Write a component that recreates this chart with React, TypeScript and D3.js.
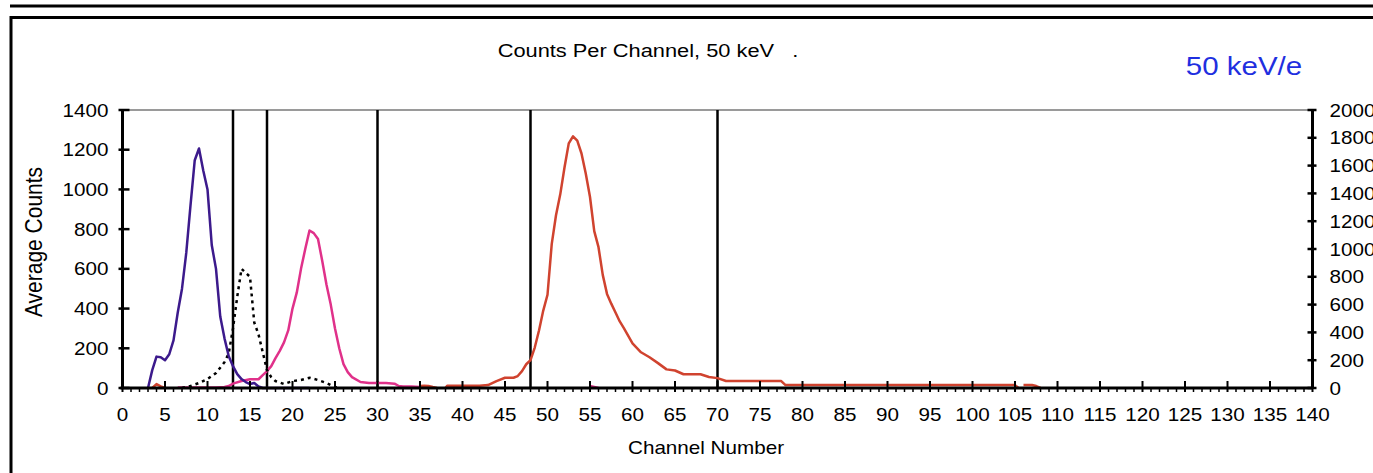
import React from 'react';
import * as d3 from 'd3';

// ---------- data ----------
const xTickLabels = ['0','5','10','15','20','25','30','35','40','45','50','55','60','65','70','75','80','85','90','95','100','105','110','115','120','125','130','135','140'];
const leftTickLabels = ['0','200','400','600','800','1000','1200','1400'];
const rightTickLabels = ['0','200','400','600','800','1000','1200','1400','1600','1800','2000'];
const markerChannels = [13, 17, 30, 48, 70];

type Pt = [number, number | null];

// left axis (Average Counts)
const purpleSeries: Pt[] = [
  [3,0],[3.5,90],[4,158],[4.5,155],[5,140],[5.5,170],[6,240],[6.5,380],[7,500],[7.5,680],
  [8,920],[8.5,1147],[9,1206],[9.5,1095],[10,1000],[10.5,720],[11,600],[11.5,360],[12,250],
  [12.5,160],[13,110],[13.5,70],[14,45],[14.5,30],[15,20],[15.5,25],[16,8],[16.5,0],
  [17,0],[18,0],[19,0],[20,0],[21,0],[22,0]
];

const dottedSeries: Pt[] = [
  [7,0],[8,10],[9,25],[10,45],[11,75],[12,130],[12.5,175],[13,300],[13.5,460],[14,600],
  [14.5,580],[15,560],[15.5,330],[16,270],[16.5,180],[17,90],[17.5,55],[18,35],[19,20],
  [20,35],[21,40],[22,52],[23,40],[24,25],[25,5],[25.5,0]
];

const pinkSeries: Pt[] = [
  [6.5,2],[7,2],[8,2],[9,3],[10,3],[11,3],[12,5],[12.5,10],[13,22],[14,35],[15,44],[16,44],
  [16.5,65],[17,85],[17.5,110],[18,150],[18.5,187],[19,230],[19.5,290],[20,400],[20.5,480],
  [21,600],[21.5,700],[22,793],[22.5,780],[23,750],[23.5,640],[24,520],[24.5,420],[25,300],
  [25.5,200],[26,120],[26.5,80],[27,55],[28,30],[29,25],[30,25],[31,25],[32,22],[32.5,10],
  [33,8],[34,8],[35,5],[35.5,null],[55,10],[56,0]
];

// right axis (0-2000)
const redSeries: Pt[] = [
  [3.5,0],[4,28],[4.5,12],[5,0],[5.5,null],
  [35,15],[35.5,17],[36,15],[36.5,7],[37,0],[37.5,null],
  [38,0],[38.2,17],[39,17],[40,17],[41,17],[42,17],[43,21],[44,50],[45,74],[46,74],[46.5,86],
  [47,121],[47.5,171],[48,200],[48.5,291],[49,414],[49.5,557],[50,671],[50.5,1037],[51,1243],
  [51.5,1393],[52,1586],[52.5,1760],[53,1811],[53.5,1779],[54,1687],[54.5,1543],[55,1374],
  [55.5,1129],[56,1013],[56.5,814],[57,677],[57.5,607],[58,543],[58.5,479],[59,429],[60,321],
  [61,257],[62,221],[63,179],[64,134],[65,126],[66,99],[67,99],[68,99],[69,79],[70,71],[71,50],
  [72,50],[73,50],[74,50],[75,50],[76,50],[77,50],[77.5,50],[78,21],[79,21],[80,21],[85,21],
  [90,21],[95,21],[100,21],[104,21],[105,21],[105.4,0],[105.7,null],[106,21],[107,21],[107.5,14],[108,0]
];

// ---------- layout ----------
const W = 1373, H = 473;
const SX = 1.18; // horizontal text stretch seen in the reference
const FONT = 'Liberation Sans, Arial, Helvetica, sans-serif';

const x = d3.scaleLinear().domain([0, 140]).range([122.5, 1312.5]);
const yL = d3.scaleLinear().domain([0, 1400]).range([388, 110]);
const yR = d3.scaleLinear().domain([0, 2000]).range([388, 110]);

function T({ x, y, size, anchor = 'middle', fill = '#000', rotate = 0, children }: any) {
  return (
    <text
      transform={`translate(${x},${y}) scale(${SX},1) rotate(${rotate})`}
      textAnchor={anchor}
      fontFamily={FONT}
      fontSize={size}
      fill={fill}
    >{children}</text>
  );
}

export default function App() {
  const lineL = d3.line<Pt>().defined(d => d[1] !== null).x(d => x(d[0])).y(d => yL(d[1] as number));
  const lineR = d3.line<Pt>().defined(d => d[1] !== null).x(d => x(d[0])).y(d => yR(d[1] as number));
  const x0 = x(0), x1 = x(140);
  const yb = yL(0), yt = yL(1400);
  const minor = d3.range(0, 141, 1);

  return (
    <svg width={W} height={H} style={{ position: 'absolute', left: 0, top: 0, background: '#fff' }}>
      <rect x={0} y={0} width={W} height={H} fill="#fff" />
      {/* frame */}
      <line x1={10} x2={W} y1={6} y2={6} stroke="#000" strokeWidth={3} />
      <line x1={10} x2={W} y1={17.5} y2={17.5} stroke="#000" strokeWidth={3} />
      <line x1={11} x2={11} y1={16} y2={H} stroke="#000" strokeWidth={3} />

      {/* titles */}
      <T x={648} y={57} size={18.5}>Counts Per Channel, 50 keV&#160;&#160;&#160;.</T>
      <T x={1244} y={75} size={25} fill="#1f2fe0">50 keV/e</T>
      <T x={706} y={454} size={17.5}>Channel Number</T>
      <T x={42} y={242} size={21} rotate={-90}>Average Counts</T>

      {/* top gray gridline */}
      <line x1={x0} x2={x1} y1={yt} y2={yt} stroke="#9a9a9a" strokeWidth={2} />

      {/* marker lines */}
      {markerChannels.map((c, i) => (
        <line key={i} x1={x(c)} x2={x(c)} y1={yt} y2={yb} stroke="#000" strokeWidth={2.5} />
      ))}

      {/* series */}
      <path d={lineL(pinkSeries) || ''} fill="none" stroke="#e0318a" strokeWidth={2.5} strokeLinejoin="round" />
      <path d={lineR(redSeries) || ''} fill="none" stroke="#d0432f" strokeWidth={2.5} strokeLinejoin="round" />
      <path d={lineL(dottedSeries) || ''} fill="none" stroke="#000" strokeWidth={2.5} strokeDasharray="3 4" />
      <path d={lineL(purpleSeries) || ''} fill="none" stroke="#3c1a8c" strokeWidth={2.5} strokeLinejoin="round" />

      {/* x axis */}
      <line x1={x0 - 2} x2={x1} y1={yb} y2={yb} stroke="#000" strokeWidth={3} />
      {minor.map(c => (
        <line key={c} x1={x(c)} x2={x(c)} y1={c % 5 === 0 ? yb - 7 : yb} y2={yb + 4} stroke="#000" strokeWidth={c % 5 === 0 ? 2 : 1.5} />
      ))}
      {xTickLabels.map((lab, i) => (
        <T key={lab} x={x(i * 5)} y={421} size={17.5}>{lab}</T>
      ))}

      {/* left axis */}
      <line x1={x0} x2={x0} y1={yt - 1} y2={yb} stroke="#000" strokeWidth={3} />
      {leftTickLabels.map((lab, i) => (
        <g key={lab}>
          <line x1={x0 - 4} x2={x0 + 7} y1={yL(i * 200)} y2={yL(i * 200)} stroke="#000" strokeWidth={2.5} />
          <T x={x0 - 14} y={yL(i * 200) + 6.5} size={17.5} anchor="end">{lab}</T>
        </g>
      ))}

      {/* right axis */}
      <line x1={x1} x2={x1} y1={yt - 1} y2={yb} stroke="#000" strokeWidth={3} />
      {rightTickLabels.map((lab, i) => (
        <g key={lab}>
          <line x1={x1 - 5} x2={x1 + 4} y1={yR(i * 200)} y2={yR(i * 200)} stroke="#000" strokeWidth={2.5} />
          <T x={x1 + 17} y={yR(i * 200) + 6.5} size={17.5} anchor="start">{lab}</T>
        </g>
      ))}
    </svg>
  );
}
